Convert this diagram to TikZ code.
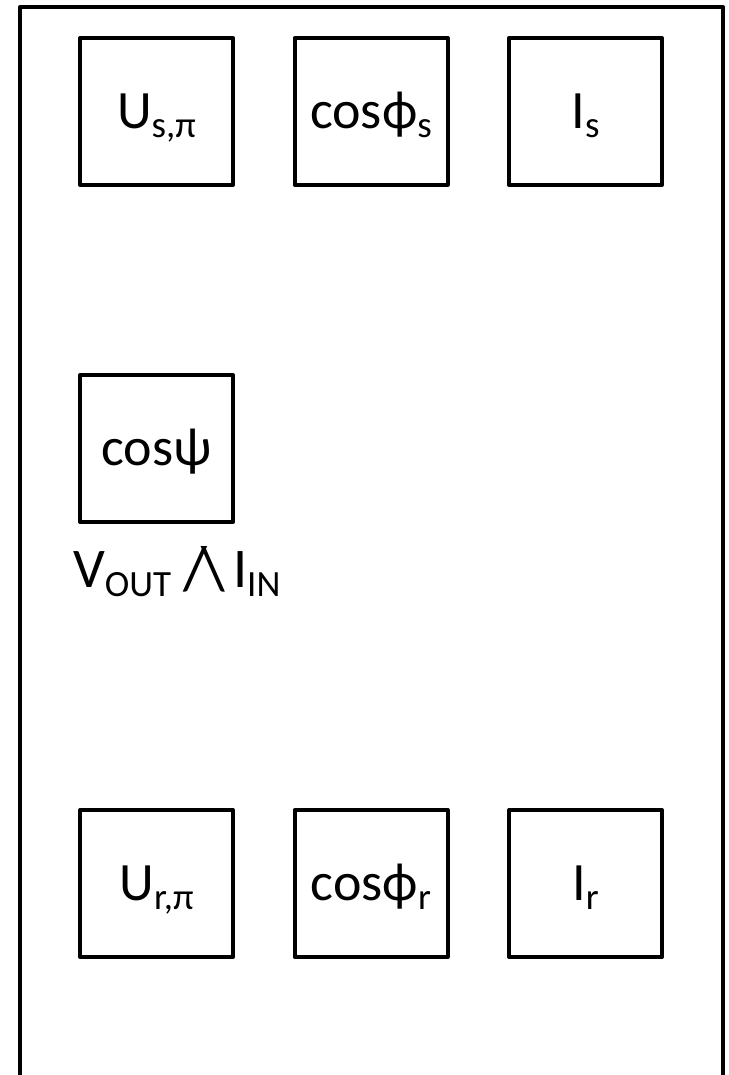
\documentclass[tikz,border=0pt]{standalone}
\usepackage{fontspec}
\setmainfont{Carlito}
\newcommand\lowsub[1]{\raisebox{-9pt}{\fontsize{37}{40}\selectfont #1}}
\newcommand\phiv{\char"03D5\relax}
\begin{document}
\begin{tikzpicture}[x=1pt,y=1pt,
  cell/.style={draw, line width=4pt, line join=round, minimum width=153pt, minimum height=147pt,
    inner sep=0pt, text height=34pt, text depth=0pt, font=\fontsize{54}{60}\selectfont},
  lbl/.style={inner sep=0pt, font=\fontsize{56}{60}\selectfont}]
\useasboundingbox (0,0) rectangle (728,1075);
\draw[line width=4pt, line join=round] (20,-10) -- (20,1068) -- (723,1068) -- (723,-10);
% top row
\node[cell] (us) at (156.5,963.5) {U\lowsub{s,π}};
\node[cell] (cs) at (371,963.5) {cos\phiv\lowsub{s}};
\node[cell] (is) at (585.5,963.5) {I\lowsub{s}};
% middle
\node[cell] (cp) at (156.5,626.5) {cosψ};
\node[lbl, anchor=base west] (vi) at (73,487) {V\lowsub{OUT}\kern12pt\raisebox{-2pt}{\fontsize{62}{62}\selectfont/\kern-6pt\textbackslash}\kern8pt I\lowsub{IN}};
% bottom row
\node[cell] (ur) at (156.5,191.5) {U\lowsub{r,π}};
\node[cell] (cr) at (371,191.5) {cos\phiv\lowsub{r}};
\node[cell] (ir) at (585.5,191.5) {I\lowsub{r}};
\end{tikzpicture}
\end{document}
